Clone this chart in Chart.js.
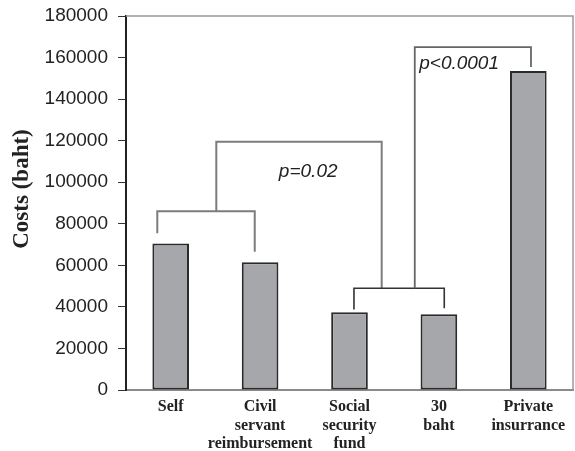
<!DOCTYPE html>
<html lang="en">
<head>
    <meta charset="UTF-8">
    <title>Costs by payment scheme</title>
    <script src="https://cdn.jsdelivr.net/npm/chart.js"></script>
    <style>
        html, body { margin: 0; padding: 0; background: #fff; }
        #wrap { width: 575px; height: 451px; }
    </style>
</head>
<body>
    <div id="wrap"><canvas id="costChart"></canvas></div>

    <script>
        // Categories (multi-line tick labels) and mean costs in baht
        const categories = [
            ['Self'],
            ['Civil', 'servant', 'reimbursement'],
            ['Social', 'security', 'fund'],
            ['30', 'baht'],
            ['Private', 'insurrance']
        ];
        const costs = [70500, 61500, 37400, 36400, 153500];

        // Y axis ticks
        const yMin = 0;
        const yMax = 180000;
        const yStep = 20000;

        // Significance brackets: polylines of [category index, cost value]
        const bracketSelfCivil = [[-0.15, 75500], [-0.15, 86000], [0.94, 86000], [0.94, 66500]];
        const bracketSocialBaht = [[2.05, 38800], [2.05, 49000], [3.06, 49000], [3.06, 39300]];
        const bracketGroups = [[0.51, 86000], [0.51, 119500], [2.36, 119500], [2.36, 49000]];
        const bracketPrivate = [[2.73, 49000], [2.73, 165000], [4.03, 165000], [4.03, 155500]];

        // p-value labels: [text, category index (left edge), cost value (baseline)]
        const pLabels = [
            ['p=0.02', 1.21, 102700],
            ['p<0.0001', 2.78, 154500]
        ];

        const yTitle = 'Costs (baht)';

        const bracketPlugin = {
            id: 'brackets',
            afterDatasetsDraw(chart) {
                const ctx = chart.ctx;
                const x = chart.scales.x;
                const y = chart.scales.y;
                const area = chart.chartArea;

                // light frame on top and right
                ctx.save();
                ctx.strokeStyle = '#9a9a9a';
                ctx.lineWidth = 1.5;
                ctx.beginPath();
                ctx.moveTo(area.left, area.top);
                ctx.lineTo(area.right, area.top);
                ctx.lineTo(area.right, area.bottom);
                ctx.stroke();

                const drawLine = (pts, color, width) => {
                    ctx.strokeStyle = color;
                    ctx.lineWidth = width;
                    ctx.beginPath();
                    pts.forEach((p, i) => {
                        const px = x.getPixelForValue(p[0]);
                        const py = y.getPixelForValue(p[1]);
                        if (i === 0) ctx.moveTo(px, py); else ctx.lineTo(px, py);
                    });
                    ctx.stroke();
                };
                drawLine(bracketSelfCivil, '#7c7c7c', 2);
                drawLine(bracketGroups, '#7c7c7c', 2);
                drawLine(bracketSocialBaht, '#333333', 1.6);
                drawLine(bracketPrivate, '#666666', 1.8);

                ctx.fillStyle = '#222';
                ctx.font = 'italic 19px "Liberation Sans", Arial, sans-serif';
                ctx.textAlign = 'left';
                ctx.textBaseline = 'alphabetic';
                pLabels.forEach(l => {
                    ctx.fillText(l[0], x.getPixelForValue(l[1]), y.getPixelForValue(l[2]));
                });

                // y axis title
                ctx.translate(22, 189);
                ctx.rotate(-Math.PI / 2);
                ctx.font = 'bold 23px "Liberation Serif", "Times New Roman", serif';
                ctx.textAlign = 'center';
                ctx.textBaseline = 'middle';
                ctx.fillText(yTitle, 0, 0);
                ctx.restore();
            }
        };

        const ctx = document.getElementById('costChart').getContext('2d');
        new Chart(ctx, {
            type: 'bar',
            data: {
                labels: categories,
                datasets: [{
                    data: costs,
                    backgroundColor: '#a6a7aa',
                    borderColor: '#2a2a2a',
                    borderWidth: 2,
                    borderSkipped: false,
                    barPercentage: 0.41,
                    categoryPercentage: 1
                }]
            },
            options: {
                responsive: true,
                maintainAspectRatio: false,
                animation: false,
                layout: { padding: { top: 16, right: 2, left: 0, bottom: 0 } },
                plugins: {
                    legend: { display: false },
                    tooltip: { enabled: false }
                },
                scales: {
                    x: {
                        offset: true,
                        grid: { display: false, drawTicks: false },
                        border: { color: '#8a8a8a', width: 2 },
                        ticks: {
                            padding: 8,
                            maxRotation: 0,
                            autoSkip: false,
                            color: '#222',
                            font: { family: '"Liberation Serif", "Times New Roman", serif', size: 16, weight: 'bold', lineHeight: 1.14 }
                        },
                        afterFit(scale) {
                            scale.height = 61;
                            scale.paddingLeft = 0;
                            scale.paddingRight = 0;
                        }
                    },
                    y: {
                        min: yMin,
                        max: yMax,
                        grid: { drawOnChartArea: false, drawTicks: true, tickLength: 8, color: '#333' },
                        border: { color: '#222', width: 2 },
                        ticks: {
                            stepSize: yStep,
                            padding: 10,
                            color: '#222',
                            font: { family: '"Liberation Sans", Arial, sans-serif', size: 19 },
                            callback: v => String(v)
                        },
                        afterFit(scale) {
                            scale.width = 126;
                            scale.paddingTop = 0;
                            scale.paddingBottom = 0;
                        }
                    }
                }
            },
            plugins: [bracketPlugin]
        });
    </script>
</body>
</html>
